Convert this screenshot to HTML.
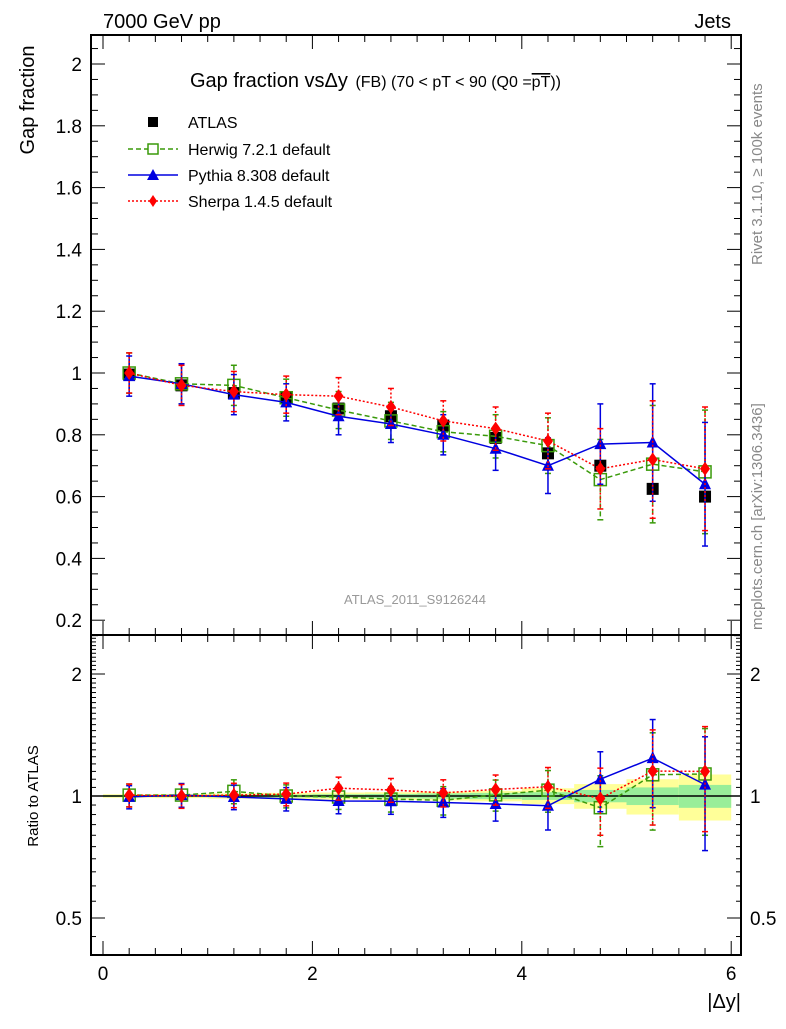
<!DOCTYPE html>
<html><head><meta charset="utf-8"><style>
body{margin:0;background:#fff}
svg{font-family:"Liberation Sans",sans-serif}
</style></head><body>
<svg id="c" width="786" height="1024" xmlns="http://www.w3.org/2000/svg">
<text x="103" y="28" font-size="20">7000 GeV pp</text>
<text x="731" y="28" font-size="20" text-anchor="end">Jets</text>
<text x="190" y="87" font-size="20">Gap fraction vs<tspan>Δy</tspan> <tspan font-size="16" dx="2">(FB) (70 &lt; pT &lt;  90 (Q0 =<tspan text-decoration="overline">pT</tspan>))</tspan></text>
<text transform="translate(34,100) rotate(-90)" font-size="20" text-anchor="middle">Gap fraction</text>
<text transform="translate(38,796) rotate(-90)" font-size="15" text-anchor="middle">Ratio to ATLAS</text>
<text x="741" y="1008" font-size="20" text-anchor="end">|Δy|</text>
<text transform="translate(762,265) rotate(-90)" font-size="15" fill="#888">Rivet 3.1.10, ≥ 100k events</text>
<text transform="translate(762,630) rotate(-90)" font-size="15" fill="#888">mcplots.cern.ch [arXiv:1306.3436]</text>
<text x="415" y="604" font-size="13" fill="#999" text-anchor="middle">ATLAS_2011_S9126244</text>
<g id="bands"></g><g id="marks"></g><g id="axes"></g>
<g font-size="16">
<rect x="148" y="117" width="10" height="10" fill="#000"/>
<text x="188" y="128">ATLAS</text>
<line x1="128" y1="149" x2="178" y2="149" stroke="#3a9a0a" stroke-width="1.5" stroke-dasharray="5,3"/>
<rect x="148" y="144" width="10" height="10" fill="#fff" stroke="#3a9a0a" stroke-width="1.5"/>
<text x="188" y="155">Herwig 7.2.1 default</text>
<line x1="128" y1="175" x2="178" y2="175" stroke="#0000e0" stroke-width="1.5"/>
<polygon points="153,169 159,180 147,180" fill="#0000e0"/>
<text x="188" y="181">Pythia 8.308 default</text>
<line x1="128" y1="201" x2="178" y2="201" stroke="#f00" stroke-width="1.5" stroke-dasharray="2,2"/>
<polygon points="153,195 157,201 153,207 149,201" fill="#f00"/>
<text x="188" y="207">Sherpa 1.4.5 default</text>
</g>
</svg>
<script>
const xCenters=[0.25,0.75,1.25,1.75,2.25,2.75,3.25,3.75,4.25,4.75,5.25,5.75];
const atlasVals=[0.995,0.96,0.935,0.92,0.885,0.86,0.83,0.79,0.74,0.70,0.625,0.60];
const atlasStatRel=[0.005,0.006,0.007,0.008,0.01,0.012,0.015,0.018,0.022,0.035,0.05,0.065];
const atlasTotRel=[0.01,0.012,0.015,0.018,0.02,0.022,0.025,0.03,0.045,0.07,0.1,0.13];
const herwigVals=[1.0,0.965,0.96,0.92,0.88,0.845,0.81,0.795,0.765,0.655,0.705,0.68];
const pythiaVals=[0.99,0.965,0.93,0.905,0.86,0.835,0.80,0.755,0.70,0.77,0.775,0.64];
const sherpaVals=[1.0,0.96,0.94,0.93,0.925,0.89,0.845,0.82,0.78,0.69,0.72,0.69];
const mcErr=[0.065,0.065,0.065,0.06,0.06,0.06,0.065,0.07,0.09,0.13,0.19,0.2];
const mainTicks=[0.2,0.4,0.6,0.8,1,1.2,1.4,1.6,1.8,2];
const ratioTicks=[0.5,1,2];
const xTicks=[0,2,4,6];

const NS="http://www.w3.org/2000/svg";
const X0=91,X1=741,MT=35,MB=635,RB=955;
const sx=v=>103+v*104.7;
const sy=v=>373-(v-1)*309;
const ry=v=>796-Math.log2(v)*122;
function mk(p,tag,at){const e=document.createElementNS(NS,tag);for(const k in at)e.setAttribute(k,at[k]);p.appendChild(e);return e;}
const bands=document.getElementById('bands'),marks=document.getElementById('marks'),axes=document.getElementById('axes');
xCenters.forEach((x,i)=>{
 let a=sx(x-0.25),b=sx(x+0.25);
 let r=mk(bands,'rect',{x:a,y:ry(1+atlasTotRel[i]),width:b-a,height:ry(1-atlasTotRel[i])-ry(1+atlasTotRel[i]),fill:'#ffff99'});
 
 
 let g=mk(bands,'rect',{x:a,y:ry(1+atlasStatRel[i]),width:b-a,height:ry(1-atlasStatRel[i])-ry(1+atlasStatRel[i]),fill:'#99ee99'});
 
 
});
let l1=mk(bands,'line',{x1:X0,x2:X1,y1:ry(1),y2:ry(1),stroke:'#000','stroke-width':1.5});


const series=[
 {name:'herwig',vals:herwigVals,col:'#3a9a0a',dash:'5,3',mk:'sq'},
 {name:'pythia',vals:pythiaVals,col:'#0000e0',dash:'',mk:'tri'},
 {name:'sherpa',vals:sherpaVals,col:'#ff0000',dash:'2,2',mk:'dia'}];
function marker(p,t,x,y,c){
 if(t==='sq')return mk(p,'rect',{x:x-6,y:y-6,width:12,height:12,fill:'none',stroke:c,'stroke-width':1.5});
 if(t==='tri')return mk(p,'polygon',{points:`${x},${y-7} ${x+6},${y+5} ${x-6},${y+5}`,fill:c});
 return mk(p,'polygon',{points:`${x},${y-7} ${x+5},${y} ${x},${y+7} ${x-5},${y}`,fill:c});
}
function drawPanel(fy,ratio){
 xCenters.forEach((x,i)=>{
  let v=ratio?1:atlasVals[i];
  if(!ratio){let r=mk(marks,'rect',{x:sx(x)-6,y:fy(v)-6,width:12,height:12,fill:'#000'});
   
   }
 });
 series.forEach(s=>{
  const vals=s.vals.map((v,i)=>ratio?v/atlasVals[i]:v);
  let pl=mk(marks,'polyline',{points:vals.map((v,i)=>sx(xCenters[i])+','+fy(v)).join(' '),fill:'none',stroke:s.col,'stroke-width':1.5,'stroke-dasharray':s.dash});
  
  
  vals.forEach((v,i)=>{
   const e=mcErr[i]*(ratio?1/atlasVals[i]:1);
   const x=sx(xCenters[i]);
   mk(marks,'line',{x1:x,x2:x,y1:fy(v+e),y2:fy(Math.max(v-e,0.01)),stroke:s.col,'stroke-width':1.5,'stroke-dasharray':s.dash});
   mk(marks,'line',{x1:x-3,x2:x+3,y1:fy(v+e),y2:fy(v+e),stroke:s.col,'stroke-width':1.5});
   mk(marks,'line',{x1:x-3,x2:x+3,y1:fy(v-e),y2:fy(v-e),stroke:s.col,'stroke-width':1.5});
   let m=marker(marks,s.mk,x,fy(v),s.col);
   
   
  });
 });
}
drawPanel(sy,false);drawPanel(ry,true);
mk(axes,'rect',{x:X0,y:MT,width:X1-X0,height:MB-MT,fill:'none',stroke:'#000','stroke-width':2});
mk(axes,'rect',{x:X0,y:MB,width:X1-X0,height:RB-MB,fill:'none',stroke:'#000','stroke-width':2});
for(let v=0.15;v<=2.09;v+=0.05){const y=sy(v);const maj=Math.abs(v*5-Math.round(v*5))<0.01;const L=maj?14:7;
 mk(axes,'line',{x1:X0,x2:X0+L,y1:y,y2:y,stroke:'#000'});mk(axes,'line',{x1:X1,x2:X1-L,y1:y,y2:y,stroke:'#000'});}
mainTicks.forEach(v=>{let t=mk(axes,'text',{x:82,y:sy(v)+7,'font-size':19,'text-anchor':'end'});t.textContent=String(v);
 
 });
for(let v=0.45;v<=2.5;v+=0.05){const y=ry(v);if(y<MB||y>RB)continue;mk(axes,'line',{x1:X0,x2:X0+5,y1:y,y2:y,stroke:'#000'});mk(axes,'line',{x1:X1,x2:X1-5,y1:y,y2:y,stroke:'#000'});}
ratioTicks.forEach(v=>{const y=ry(v);mk(axes,'line',{x1:X0,x2:X0+14,y1:y,y2:y,stroke:'#000'});mk(axes,'line',{x1:X1,x2:X1-14,y1:y,y2:y,stroke:'#000'});
 let t=mk(axes,'text',{x:82,y:y+7,'font-size':19,'text-anchor':'end'});t.textContent=String(v);
 
 
 let t2=mk(axes,'text',{x:750,y:y+7,'font-size':19});t2.textContent=String(v);
 
 });
for(let v=0;v<=6.05;v+=0.25){const x=sx(v);const maj=Math.abs(v-Math.round(v/2)*2)<0.01;const L=maj?14:7;
 [MT,MB].forEach(y0=>mk(axes,'line',{x1:x,x2:x,y1:y0,y2:y0+L,stroke:'#000'}));
 [MB,RB].forEach(y0=>mk(axes,'line',{x1:x,x2:x,y1:y0,y2:y0-L,stroke:'#000'}));}
xTicks.forEach(v=>{let t=mk(axes,'text',{x:sx(v),y:980,'font-size':19,'text-anchor':'middle'});t.textContent=String(v);
 
 });
</script>
</body></html>
